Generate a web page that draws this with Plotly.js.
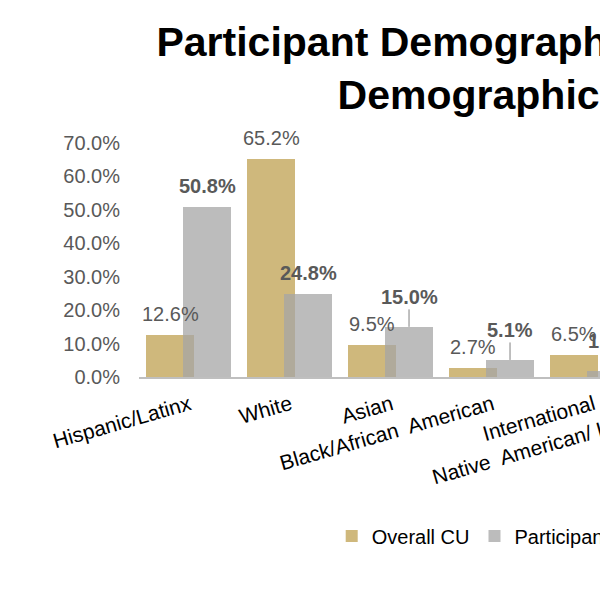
<!DOCTYPE html>
<html>
<head>
<meta charset="utf-8">
<script src="https://cdn.plot.ly/plotly-3.0.1.min.js"></script>
<style>
  html, body { margin: 0; padding: 0; overflow: hidden; background: #ffffff; }
  #chart { width: 960px; height: 600px; }
</style>
</head>
<body>
<div id="chart"></div>
<script>
// Chart values (percent)
const categories = [
  'Hispanic/Latinx',
  'White',
  'Asian',
  'Black/African\u00a0 American',
  'International',
  'Native\u00a0 American/ Indigenous',
];
const overallCU = [12.6, 65.2, 9.5, 2.7, 6.5, null];
const participants = [50.8, 24.8, 15.0, 5.1, 1.7, null];
const seriesNames = ['Overall CU', 'Participants'];

const font = 'Liberation Sans, Arial, sans-serif';
const labelColor = '#595959';

// Bars overlap a bit, like the original office chart
const barWidth = 0.475;
const series = [
  { values: overallCU, name: seriesNames[0], offset: -0.427, color: '#cfb87c', bold: false },
  { values: participants, name: seriesNames[1], offset: -0.064, color: 'rgba(166,166,166,0.75)', bold: true },
];

// Labels sitting higher with a leader line down to the bar
const leaderLabels = new Set(['Participants|Asian', 'Participants|Black/African\u00a0 American', 'Participants|International']);

const traces = series.map(s => ({
  type: 'bar',
  x: categories,
  y: s.values,
  name: s.name,
  offset: s.offset,
  width: barWidth,
  marker: { color: s.color, line: { width: 0 } },
  hoverinfo: 'skip',
}));

const annotations = [];
series.forEach(s => {
  s.values.forEach((v, i) => {
    if (v === null) return;
    const text = v.toFixed(1) + '%';
    const leader = leaderLabels.has(s.name + '|' + categories[i]);
    annotations.push({
      x: i + s.offset + barWidth / 2,
      y: v,
      xref: 'x',
      yref: 'y',
      text: s.bold ? '<b>' + text + '</b>' : text,
      font: { family: font, size: 20, color: labelColor },
      showarrow: leader,
      arrowhead: 0,
      arrowwidth: 1,
      arrowcolor: '#808080',
      standoff: 0,
      ax: 0,
      ay: -30,
      yshift: leader ? 0 : 21,
      xanchor: 'center',
      yanchor: 'middle',
    });
  });
});

const layout = {
  width: 960,
  height: 600,
  paper_bgcolor: '#ffffff',
  plot_bgcolor: '#ffffff',
  font: { family: font, size: 20, color: '#000000' },
  margin: { l: 139.3, r: 215.3, t: 143.3, b: 223.3, pad: 0 },
  title: {
    text: 'Participant Demographics vs. CU<br>Demographics',
    font: { family: font, size: 41, color: '#000000', weight: 'bold' },
    x: 0.5,
    xref: 'container',
    xanchor: 'center',
    y: 1 - 56 / 600,
    yref: 'container',
    yanchor: 'top',
  },
  barmode: 'overlay',
  bargap: 0,
  showlegend: true,
  legend: {
    orientation: 'h',
    xref: 'container',
    yref: 'container',
    x: 331.7 / 960,
    xanchor: 'left',
    y: 1 - 536 / 600,
    yanchor: 'middle',
    font: { family: font, size: 20, color: '#000000' },
    traceorder: 'normal',
  },
  xaxis: {
    type: 'category',
    range: [-0.5, categories.length - 0.5],
    tickangle: -16,
    tickfont: { family: font, size: 21, color: '#000000' },
    ticklabelstandoff: 6,
    showline: true,
    linecolor: '#bfbfbf',
    linewidth: 1.5,
    ticks: '',
    showgrid: false,
    zeroline: false,
    fixedrange: true,
  },
  yaxis: {
    range: [0, 70],
    dtick: 10,
    tickformat: '.1f',
    ticksuffix: '%',
    tickfont: { family: font, size: 20, color: labelColor },
    showgrid: false,
    zeroline: false,
    showline: false,
    ticks: '',
    ticklabelstandoff: 18,
    fixedrange: true,
  },
  annotations: annotations,
};

Plotly.newPlot('chart', traces, layout, { displayModeBar: false, staticPlot: true });
</script>
</body>
</html>
